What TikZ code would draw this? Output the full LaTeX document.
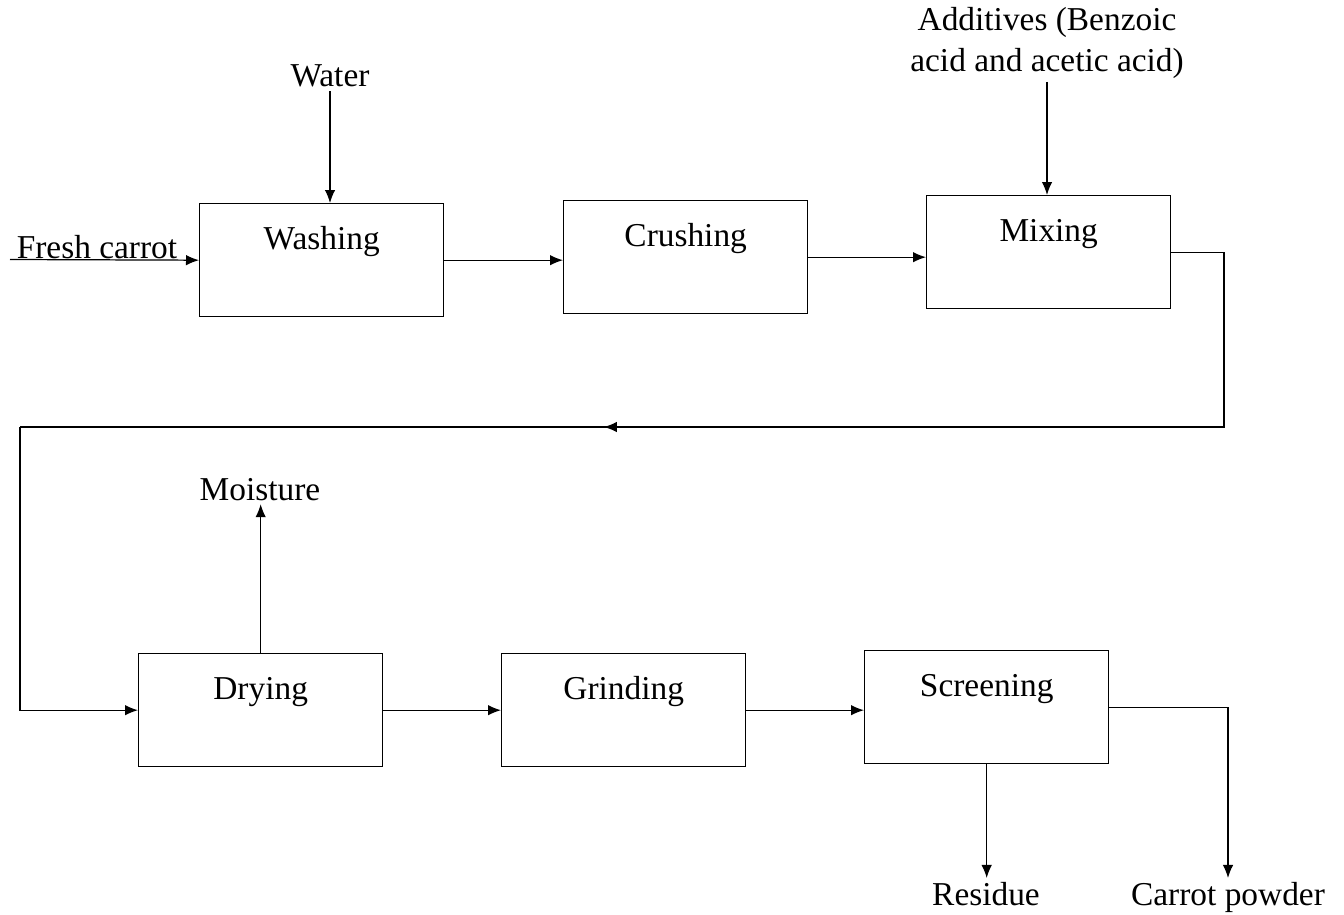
\documentclass[tikz,border=0pt]{standalone}
\usepackage{fontspec}
\setmainfont{Liberation Serif}
\usetikzlibrary{arrows.meta,calc,positioning}
\tikzset{box/.style={draw,line width=0.8pt,anchor=north west,minimum width=4.88cm,inner xsep=0pt,inner ysep=0pt,text height=0.92cm,text depth=1.34cm},
  arr/.style={-{Latex[length=2.6mm,width=2.1mm]},line width=0.7pt},
  flow/.style={line width=0.7pt},
  lbl/.style={inner sep=2pt}}

\begin{document}
\begin{tikzpicture}[x=0.02cm,y=-0.02cm,font=\fontsize{19}{23}\selectfont]
\useasboundingbox (0,0) rectangle (1344,915);
\node[box] (wash) at (199,203) {Washing};
\node[box] (crush) at (563,200) {Crushing};
\node[box] (mix) at (926,195) {Mixing};
\node[box] (dry) at (138,653) {Drying};
\node[box] (grind) at (501,653) {Grinding};
\node[box] (screen) at (864,650) {Screening};
\node[lbl,anchor=base] (fresh) at (97,258) {Fresh carrot};
\node[lbl,anchor=base] (water) at (330,87) {Water};
\node[lbl,anchor=south,align=center] (add) at (1047,82) {Additives (Benzoic\\acid and acetic acid)};
\node[lbl,anchor=base] (moist) at (260,500) {Moisture};
\node[lbl,anchor=base] (residue) at (986,905) {Residue};
\node[lbl,anchor=base] (powder) at (1228,905) {Carrot powder};
\coordinate (freshin) at (10,259.5);
\coordinate (turnR) at (1224,427);
\coordinate (turnL) at (20,427);
\draw[arr] (freshin) -- (wash.west);
\draw[arr] (water.south) -- (water.south |- wash.north);
\draw[arr] (wash.east) -- (wash.east -| crush.west);
\draw[arr] (crush.east) -- (crush.east -| mix.west);
\draw[arr] (add.south) -- (add.south |- mix.north);
\draw[flow] (mix.east) -| (turnR) -- (turnL);
\draw[arr] (turnR) -- ($(turnR)!0.515!(turnL)$);
\draw[arr] (turnL) |- (dry.west);
\draw[arr] (dry.north) -- (dry.north |- moist.south);
\draw[arr] (dry) -- (grind);
\draw[arr] (grind.east) -- (grind.east -| screen.west);
\draw[arr] (screen.south) -- (screen.south |- residue.north);
\draw[arr] (screen.east) -| (powder.north);
\end{tikzpicture}
\end{document}
